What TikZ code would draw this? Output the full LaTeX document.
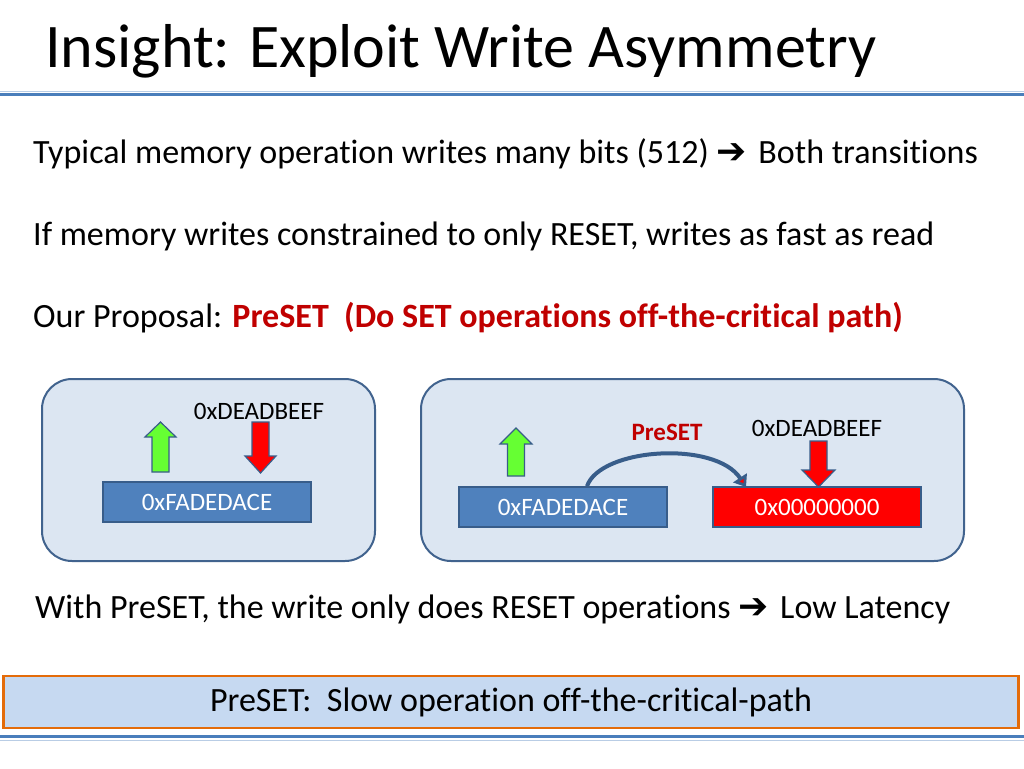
\documentclass[tikz,border=0pt]{standalone}
\usepackage{fontspec}
\setmainfont{Carlito}[Ligatures=NoCommon]
\newfontfamily\symfont{DejaVu Sans}
\usetikzlibrary{arrows.meta}
\definecolor{rulebl}{HTML}{4A7EBB}
\definecolor{rulelt}{HTML}{B9CDE5}
\definecolor{panelfill}{HTML}{DCE6F2}
\definecolor{panelline}{HTML}{41638E}
\definecolor{boxblue}{HTML}{4F81BD}
\definecolor{boxline}{HTML}{385D8A}
\definecolor{darkred}{HTML}{C00000}
\definecolor{upgreen}{HTML}{66FF33}
\definecolor{notefill}{HTML}{C6D9F1}
\definecolor{noteline}{HTML}{E46C0A}
\tikzset{
  bodytext/.style={anchor=base west, inner sep=0pt, font=\fontsize{34}{40}\selectfont},
  panel/.style={draw=panelline, line width=2pt, fill=panelfill, rounded corners=30pt},
  membox/.style={draw=boxline, line width=1.5pt, fill=boxblue, text=white, minimum width=208pt, minimum height=40pt, inner sep=0pt, font=\fontsize{25}{30}\selectfont},
  smalltext/.style={inner sep=0pt, font=\fontsize{25}{30}\selectfont},
  blockarrow/.style={draw=boxline, line width=1.2pt, line join=miter},
}
\newcommand{\bigarrow}{{\symfont\fontsize{36}{40}\selectfont ➔}}
\begin{document}
\begin{tikzpicture}[x=1pt,y=-1pt]
\useasboundingbox (0,0) rectangle (1024,768);
\fill[white] (0,0) rectangle (1024,768);
% title
\node[anchor=base west, inner sep=0pt, font=\fontsize{62}{70}\selectfont] (title) at (45,67) {Insight: Exploit Write Asymmetry};
% rules
\draw[rulelt, line width=1pt] (0,91) -- (1024,91);
\draw[rulebl, line width=3.5pt] (0,94.5) -- (1024,94.5);
\draw[rulebl, line width=3.5pt] (0,736.5) -- (1024,736.5);
\draw[rulelt, line width=1pt] (0,740) -- (1024,740);
% body text
\node[bodytext] (l1) at (33,163) {Typical memory operation writes many bits (512) \bigarrow\hspace{4pt} Both transitions};
\node[bodytext] (l2) at (33,245) {If memory writes constrained to only RESET, writes as fast as read};
\node[bodytext] (l3) at (33,327) {Our Proposal: \textcolor{darkred}{\bfseries PreSET\ \ (Do SET operations off-the-critical path)}};
\node[bodytext] (l4) at (35,618) {With PreSET, the write only does RESET operations \bigarrow\hspace{4pt} Low Latency};
% panels
\draw[panel] (42,379) rectangle (375,561);
\draw[panel] (421,379) rectangle (964,561);
% left panel
\node[membox] (fade1) at (207,502) {0xFADEDACE};
\node[smalltext, anchor=base] (beef1) at (259,419) {0xDEADBEEF};
\draw[blockarrow, fill=upgreen] (160.5,422) -- (176,437) -- (169,437) -- (169,472) -- (152,472) -- (152,437) -- (145,437) -- cycle;
\draw[blockarrow, fill=red] (260.5,473) -- (276,456) -- (269,456) -- (269,422) -- (252,422) -- (252,456) -- (245,456) -- cycle;
% right panel
\node[membox] (fade2) at (563,507) {0xFADEDACE};
\node[membox, fill=red] (zero) at (817,507) {0x00000000};
\node[smalltext, anchor=base] (beef2) at (817,436) {0xDEADBEEF};
\node[smalltext, anchor=base, text=darkred, font=\bfseries\fontsize{25}{30}\selectfont] (pre) at (667,440) {PreSET};
\draw[blockarrow, fill=upgreen] (516,428) -- (532,444) -- (524.5,444) -- (524.5,476) -- (507.5,476) -- (507.5,444) -- (500,444) -- cycle;
\draw[blockarrow, fill=red] (818.5,487) -- (835,470) -- (827,470) -- (827,441) -- (810,441) -- (810,470) -- (802,470) -- cycle;
\draw[boxline, line width=4pt, -{Triangle[length=11pt,width=16pt,fill=red]}] ([xshift=24pt]fade2.north) .. controls (600,448) and (715,440) .. (746,487);
% note
\node[draw=noteline, line width=2.5pt, fill=notefill, minimum width=1015pt, minimum height=52pt, inner sep=0pt, font=\fontsize{34}{40}\selectfont] (note) at (511,702) {PreSET:\ \ Slow operation off-the-critical-path};
\end{tikzpicture}
\end{document}
